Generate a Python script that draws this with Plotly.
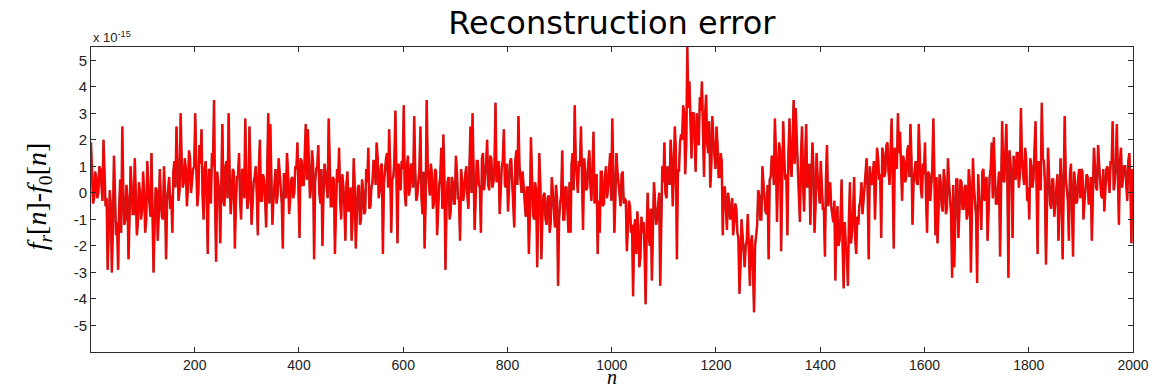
import plotly.graph_objects as go

# Reconstruction error (units of 1e-15).
# err_peak: samples at n = 1, 5, 9, ... (the spiky extremes)
err_peak = [
    # n 1-97
    1.9, -0.4, 0.8, -0.2, 1.0, 0.2, 2.0, -0.5,
    -2.9, 0.1, -3.0, 1.4, -1.6, -2.9, 0.5,
    2.5, -1.2, 0.3, -2.5, 1.0, -0.8, 1.3, -1.6, 0.4, -1.0,
    # n 101-197
    0.8, -1.5, 1.2, -0.6, 1.5, -3.0, 0.2, -1.8, 0.9, -0.9, 1.0, -2.5,
    0.4, -0.6, -1.5, 1.2, 2.5, -0.3, 3.0, 0.2, 1.3, -0.5, 1.6, 0.0, 0.9,
    # n 201-297
    3.0, -0.5, 1.8, 2.4, -1.0, 1.2,
    -2.3, 0.8, 1.5, 3.5, -2.6, 0.5,
    -1.9, 2.6, -0.5, 1.2, 3.0, -0.8, 0.9,
    -2.1, 0.6, 1.5, -1.0, 0.8, 2.8,
    # n 301-397
    -0.6, 2.5, -1.2, 0.4, 1.0, -1.6, 2.0, -0.3, 0.5,
    -1.3, 3.0, 2.6, -1.2, 0.6, -0.4, 1.3, 0.2,
    -2.1, 0.7, 1.5, -0.8, 0.5, -0.2, 1.0, 1.9,
    # n 401-497
    -1.7, 1.2, 0.3, 2.6, 2.4, -0.2, 1.6, -2.5, 0.9, 1.8, -0.4, -2.0, 1.1, 0.2,
    2.8, -0.5, 0.6, -2.3, 0.9, 1.7, -1.0, 0.3, -1.8, 0.8, -0.6,
    # n 501-597
    -1.8, 1.3, -2.1, 0.2, -1.2, 0.5, -0.8, 0.9, 1.7, -0.5,
    0.4, 1.2, 1.9, -0.2, 1.0, -2.3, 0.9, 1.5, 2.4, -1.5, 0.6,
    3.1, -1.9, 0.8, 1.2,
    # n 601-697
    3.3, -0.5, 1.4, 0.2, 1.0, 2.9, -0.3,
    0.6, 2.5, -0.8, -2.1, 3.5, 0.4, 1.1, -0.6, 0.9, -1.6, 0.3,
    1.7, 2.2, -2.9, 0.4, -1.0, 0.6, -0.4,
    # n 701-797
    1.4, -0.2, -1.8, 0.5, 0.0, 1.0, -0.6, 2.5, 3.0, -1.4,
    1.2, 0.3, -1.5, 1.5, 0.6, 2.0, 0.1, 1.3, 0.4, 3.4, 0.9,
    -0.8, 1.0, 2.4, 0.2,
    # n 801-897
    -0.7, 1.2, 0.4, -1.3, 1.6, 2.9, 0.3,
    0.8, -0.5, 0.2, -2.3, 2.1, -0.8, 0.4, -2.8, 1.5, -2.5, -0.1, -1.0,
    -0.2, -1.5, 0.6, -0.9, 0.3, -3.5,
    # n 901-997
    -0.4, 1.6, -1.0, 0.2, -1.5,
    -1.5, 1.5, 3.3, 0.4, 1.2, 2.5, -1.4, 0.9, 0.2, 1.6, -0.3,
    2.3, 0.5, -2.3, -1.5, 0.8, -0.4, 1.0, 0.2, 1.5,
    # n 1001-1097
    2.8, -1.5, 1.5, 0.3, -0.5, 0.8, -0.2,
    -2.2, -0.3, -1.5, -3.9, -1.0, -0.7, -2.8, -0.9, -1.1, -4.2,
    0.0, -2.0, -3.3, 0.4, -1.2, -0.5, -3.5, 1.0,
    # n 1101-1197
    1.9, -0.2, 0.6, 2.0, -0.5, 2.5, -2.5, 0.8,
    2.2, 3.3, 0.7, 5.5, 4.2, 1.3,
    3.0, 0.8, 2.4, 3.6, 4.2, 0.6, 3.7, 1.5, 0.2, 2.9, 1.2,
    # n 1201-1297
    2.5, 0.6, 1.5, -1.6,
    0.2, -1.4, -0.3, -0.8, -1.6, -0.4,
    -1.5, -3.8, -1.0, -2.5, -2.0, -0.8, -3.5, -1.6, -4.5,
    -1.6, 0.1, -1.0, 1.0, -0.2, -0.8,
    # n 1301-1397
    -2.5, 0.6, 1.2, 2.8, -1.1, 1.9, -2.2, 2.7, 0.5, -1.6,
    2.8, 0.6, 3.5, 3.2, 1.0,
    -1.1, 2.5, -0.7, 2.6, 0.4, -1.2, 1.9,
    -1.5, 1.5, 0.1,
    # n 1401-1497
    1.2, -0.6, -2.4, 1.8, 0.2, -0.5, -1.1,
    -3.3, -0.5, -1.8, 0.5, -3.6, -2.0, -3.5, 0.4, -1.5, 0.6, -2.3,
    -1.2, -0.3, -0.8, 0.2, 1.3, -2.5, 0.4,
    # n 1501-1597
    1.0, -1.0, 1.7,
    0.5, -1.7, 1.5, 0.8, 1.9, 0.3, 2.8, -2.1, 1.4, 3.0,
    2.3, -0.3, 1.2, 0.6, 1.8, 2.6, -1.2, 0.9, 0.4,
    2.6, 0.2, 1.1,
    # n 1601-1697
    1.9, -1.5, 0.7, 0.2, 2.8, -1.6,
    -1.9, 0.7, -0.5, 0.9, -0.8, 1.3, -0.2, -3.2, -2.8, 0.5, -1.7,
    0.5, -0.6, 0.2, -1.0, 0.9, -3.0, 1.3, -0.5,
    # n 1701-1797
    -3.4, -0.2, -1.4, 0.9, 0.3, -1.8, 0.6, 1.9, 2.1, -0.4, 0.5, -2.4,
    2.7, 0.4, 2.6, -3.2, 1.2, -1.7, 0.9, 1.5, 0.2, 3.2,
    0.8, 1.7, -0.3,
    # n 1801-1897
    -1.0, 1.0, 0.5, 2.7, -2.3, 0.6, 3.4, 1.2,
    -2.7, 1.7, -0.4, 0.5, -0.9, 0.3, -1.8, 1.3, -2.5, 2.9, 0.0,
    -1.8, 1.1, -2.4, 0.4, -0.3, 0.9,
    # n 1901-1997
    0.9, -1.0, 0.3, 0.6, -0.4,
    -1.8, 1.7, 0.2, 1.8, 0.5, -0.2, -0.7, 0.9, 0.3, 1.2,
    2.7, 0.4, 2.6, -1.2, 1.7, 0.5, 1.0, -0.3, 1.5, -1.9,
]

# err_core: samples at n = 3, 7, 11, ... (the dense band around the local level)
err_core = [
    # n 3-99
    0.8, -0.2, 0.6, 0.0, 0.9, -0.3, 0.5,
    -0.2, -1.4, -0.5, -1.3, 0.0, -1.1, -0.6, -1.5,
    0.1, -1.0, -0.2, -0.9, 0.2, -0.8, -0.1, -1.1, 0.0, -0.6,
    # n 103-199
    -0.1, -1.0, 0.2, -0.9, -0.2, -1.2, 0.1, -0.8, -0.3, -1.0, 0.0,
    -0.3, 0.6, -0.1, 0.8, 0.2, 1.0, 0.1, 1.2, 0.4, 0.9, 0.2, 1.3, 0.5, 1.0,
    # n 203-299
    1.0, 0.0, 1.1, -0.1, 0.9,
    -0.2, 0.9, -0.4, 1.0, -0.3, 0.8, 0.0,
    0.9, -0.3, 1.0, -0.2, 0.7, -0.1,
    0.8, -0.4, 0.6, -0.3, 0.9, -0.2, 0.5,
    # n 303-399
    -0.3, 0.8, -0.4, 0.6, 0.0, 0.9, -0.3, 0.7, -0.2,
    0.8, -0.4, 0.6, -0.3, 0.9, -0.1, 0.5,
    -0.4, 0.7, -0.2, 0.8, -0.3, 0.6, 0.0, 0.9, 0.1,
    # n 403-499
    1.3, 0.3, 1.4, 0.5, 1.2, 0.2, 1.1, 0.4, 1.0, 0.0, 0.9, -0.1, 0.7, -0.2,
    0.6, -0.5, 0.5, -0.6, 0.4, -0.3, 0.7, -0.5, 0.3, -0.7, 0.2,
    # n 503-599
    -0.9, 0.2, -0.8, 0.3, -1.0, 0.1, -0.7, 0.4, -0.6,
    0.2, 1.2, 0.3, 1.3, 0.1, 1.1, 0.4, 1.3, 0.2, 1.0, 0.5, 1.2,
    0.0, 1.1, 0.1, 0.9,
    # n 603-699
    0.0, 1.0, -0.1, 1.1, 0.2, 0.9, -0.1,
    0.9, -0.2, 0.8, -0.3, 1.0, -0.1, 0.7, -0.4, 0.8, -0.2, 0.6,
    -0.6, 0.5, -0.5, 0.6, -0.7, 0.4, -0.4,
    # n 703-799
    0.8, -0.2, 0.9, -0.3, 0.7, -0.1, 1.0, 0.0, 0.8, -0.2,
    1.2, 0.2, 1.3, 0.1, 1.1, 0.3, 1.4, 0.2, 1.0, 0.4, 1.2,
    0.1, 1.2, 0.3, 1.1,
    # n 803-899
    0.2, 1.3, 0.1, 1.2, 0.3, 1.0, 0.0,
    0.3, -0.9, 0.2, -0.8, 0.4, -1.0, 0.1, -0.7, 0.3, -0.9, 0.0,
    -1.2, -0.1, -1.1, 0.0, -1.3, -0.2, -1.0,
    # n 903-999
    -0.1, -1.0, 0.2, -0.8, 0.4,
    1.1, 0.1, 1.2, 0.0, 1.0, 0.2, 1.3, 0.1, 1.1, 0.3, 0.9,
    -0.4, 0.7, -0.3, 0.8, -0.5, 0.6, -0.2, 0.9, -0.3,
    # n 1003-1099
    0.9, -0.2, 0.8, -0.3, 0.7, -0.4,
    -0.3, -1.3, -0.5, -1.2,
    -1.3, -2.3, -1.2, -2.4, -1.5, -2.2, -1.4,
    -1.6, -0.6, -1.4, -0.3, -1.0, 0.0, -0.6, 0.4,
    # n 1103-1199
    0.0, 1.0, 0.3, 1.3, 0.6, 1.6, 0.9, 1.9,
    2.0, 3.0, 1.9, 3.2, 2.1, 3.0,
    2.0, 3.0, 1.8, 3.1, 2.1, 2.9, 1.9, 2.7,
    1.0, 2.0, 0.9,
    # n 1203-1299
    1.8, 0.6, 1.2,
    0.2, -0.9, 0.0, -1.0, -0.2, -1.1, -0.6,
    -1.7, -2.7, -1.6, -2.8, -1.8, -2.6, -1.9, -2.9, -2.0,
    -1.2, -0.1, -1.0, 0.2, -0.7, 0.3,
    # n 1303-1399
    0.5, 1.4, 0.3, 1.5, 0.6, 1.6, 0.4, 1.3, 0.7, 1.5,
    1.0, 2.1, 1.1, 2.0,
    0.3, 1.3, 0.4, 1.2, 0.2, 1.1, 0.5, 0.9,
    -0.5, 0.6, -0.4,
    # n 1403-1499
    0.5, -0.6, 0.6, -0.5, 0.4, -0.8, -0.3,
    -1.0, -2.0, -0.9, -2.1, -1.1, -2.2, -1.0, -1.9, -0.8, -1.7, -0.9,
    -0.5, 0.4, -0.3, 0.7, 0.0, 1.0, 0.3,
    # n 1503-1599
    1.2, 0.3, 1.3,
    0.7, 1.7, 0.6, 1.8, 0.8, 1.6, 0.5, 1.7, 0.9,
    1.5, 0.5, 1.4, 0.4, 1.6, 0.6, 1.3, 0.4, 1.2, 0.3,
    0.9, -0.2, 0.7,
    # n 1603-1699
    -0.2, 0.8, -0.3, 0.9, -0.1, 0.6,
    -0.6, 0.4, -0.7, 0.5, -0.6, 0.4, -0.8, 0.3, -0.5, 0.5, -0.7, 0.4, -0.6,
    0.3, -0.8, 0.4, -0.7, 0.2, -0.9,
    # n 1703-1799
    0.7, -0.4, 0.8, -0.3, 0.6, -0.5, 0.9, -0.2, 0.7, -0.4, 0.8, -0.3,
    0.5, 1.5, 0.4, 1.6, 0.6, 1.4, 0.5, 1.5, 0.7, 1.3,
    0.3, 1.3, 0.2,
    # n 1803-1899
    1.3, 0.2, 1.4, 0.3, 1.2, 0.1, 1.3, 0.4,
    -0.5, 0.6, -0.6, 0.5, -0.4, 0.7, -0.7, 0.4, -0.5, 0.6, -0.3,
    0.7, -0.3, 0.8, -0.4, 0.6, -0.2,
    # n 1903-1999
    0.8, -0.3, 0.7, -0.4, 0.6,
    0.0, 1.0, 0.1, 1.1, -0.1, 0.9, 0.2, 1.0, 0.0, 1.1,
    0.1, 1.1, 0.0, 1.2, 0.2, 1.0, 0.1, 1.2, 0.3, 0.9,
]

n_peak = [1 + 4 * i for i in range(len(err_peak))]
n_core = [3 + 4 * i for i in range(len(err_core))]
pts = sorted(list(zip(n_peak, err_peak)) + list(zip(n_core, err_core)))
n_all = [p[0] for p in pts]
e_all = [p[1] for p in pts]

x_ticks = [200, 400, 600, 800, 1000, 1200, 1400, 1600, 1800, 2000]
y_ticks = [-5, -4, -3, -2, -1, 0, 1, 2, 3, 4, 5]

axis_col = "#2b2b2b"
tick_font = dict(family="Liberation Sans, Arial, sans-serif", size=14, color="#222222")

fig = go.Figure()
fig.add_trace(go.Scatter(
    x=n_all, y=e_all, mode="lines",
    line=dict(color="rgb(185,35,35)", width=2.5),
    hoverinfo="skip", showlegend=False,
))
fig.add_trace(go.Scatter(
    x=n_all, y=e_all, mode="lines",
    line=dict(color="rgb(255,0,0)", width=1.5),
    hoverinfo="x+y", showlegend=False,
))

fig.update_layout(
    width=1161, height=388,
    margin=dict(l=91, r=24, t=47, b=36),
    paper_bgcolor="white", plot_bgcolor="white",
    title=dict(text="Reconstruction error", x=0.527, xanchor="center",
               y=0.94, yanchor="middle",
               font=dict(family="DejaVu Sans, Verdana, sans-serif", size=32, color="black")),
    xaxis=dict(range=[1, 2000], tickvals=x_ticks, ticktext=[str(v) for v in x_ticks],
               ticks="inside", ticklen=5, tickcolor=axis_col, showline=True,
               linecolor=axis_col, linewidth=1, mirror="ticks", showgrid=False,
               zeroline=False, tickfont=tick_font),
    yaxis=dict(range=[-6, 5.5], tickvals=y_ticks, ticktext=[str(v) for v in y_ticks],
               ticks="inside", ticklen=5, tickcolor=axis_col, showline=True,
               linecolor=axis_col, linewidth=1, mirror="ticks", showgrid=False,
               zeroline=False, tickfont=dict(family="Liberation Sans, Arial, sans-serif",
                                             size=15, color="#222222")),
    annotations=[
        dict(text="x 10<sup>-15</sup>", xref="paper", yref="paper", x=0.0, y=1.0,
             xanchor="left", yanchor="bottom", showarrow=False,
             font=dict(family="Liberation Sans, Arial, sans-serif", size=13, color="#222222")),
        dict(text="<i>f<sub>r</sub></i>[<i>n</i>]-<i>f</i><sub>0</sub>[<i>n</i>]",
             xref="paper", yref="paper", x=-0.05, y=0.51, textangle=-90,
             xanchor="center", yanchor="middle", showarrow=False,
             font=dict(family="Liberation Serif, Times New Roman, serif", size=28, color="black")),
        dict(text="<i>n</i>", xref="paper", yref="paper", x=0.5, y=-0.124,
             xanchor="center", yanchor="bottom", showarrow=False,
             font=dict(family="Liberation Serif, Times New Roman, serif", size=20, color="black")),
    ],
)

fig.write_html("out.html")
